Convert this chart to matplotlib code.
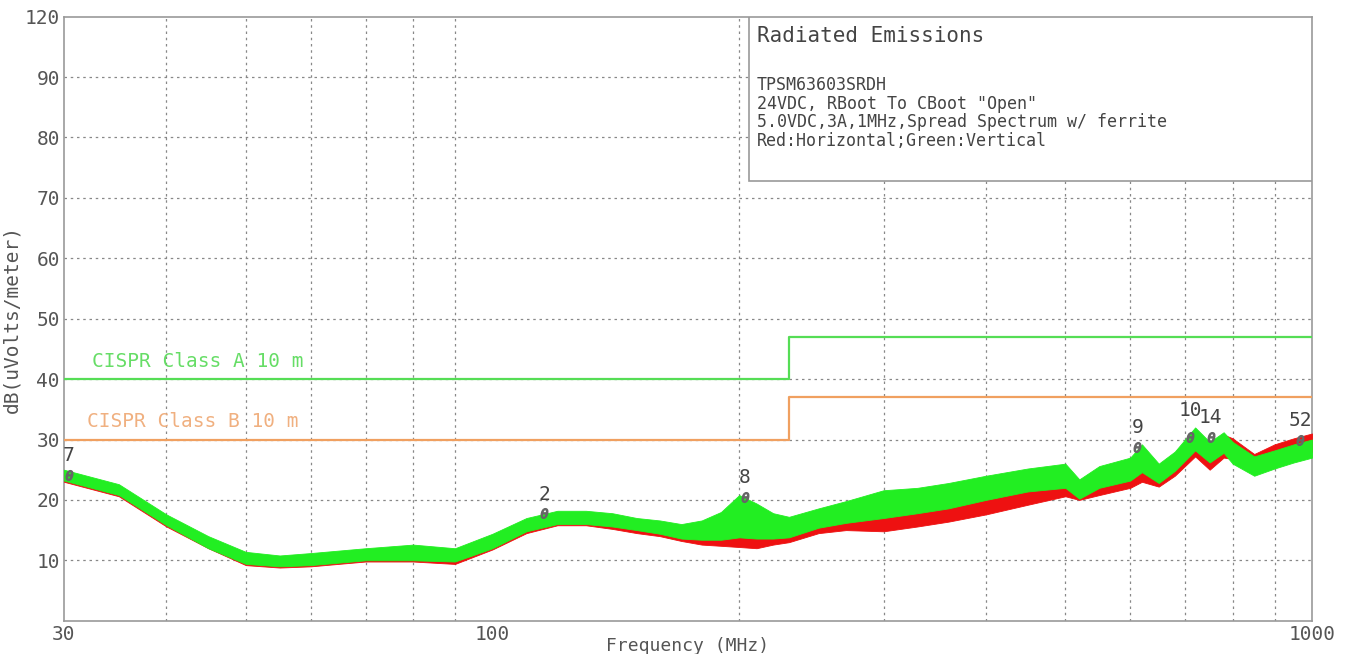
import numpy as np
import matplotlib.pyplot as plt
from matplotlib.patches import Rectangle
from matplotlib.ticker import FixedLocator, NullLocator

# --- data ---
freq = [30, 35, 40, 45, 50, 55, 60, 70, 80, 90, 100, 110, 120, 130, 140, 150,
        160, 170, 180, 190, 200, 210, 220, 230, 250, 270, 300, 330, 360, 400,
        450, 500, 520, 550, 600, 620, 650, 680, 720, 750, 780, 800, 850, 900,
        950, 1000]

# horizontal (red) noise band
red_lo = [23.0, 20.6, 15.6, 12.0, 9.2, 8.8, 9.0, 9.8, 9.8, 9.4, 11.8, 14.5, 15.8,
          15.8, 15.2, 14.5, 14.0, 13.2, 12.6, 12.4, 12.2, 12.0, 12.6, 13.0, 14.5,
          15.0, 14.8, 15.6, 16.4, 17.6, 19.2, 20.6, 20.0, 20.8, 22.0, 23.0, 22.2,
          24.0, 27.2, 25.0, 27.0, 26.8, 25.0, 26.2, 27.0, 28.0]
red_hi = [24.8, 22.2, 17.2, 13.6, 10.8, 10.4, 10.6, 11.6, 12.0, 11.0, 13.6, 16.2,
          17.4, 17.4, 16.8, 16.2, 15.8, 15.0, 14.8, 15.0, 15.2, 14.6, 14.8, 15.0,
          16.4, 17.6, 17.4, 18.4, 19.2, 20.6, 21.8, 23.4, 22.2, 23.6, 24.6, 25.8,
          24.4, 27.0, 30.4, 27.6, 30.8, 30.2, 27.6, 29.2, 30.2, 31.0]

# vertical (green) noise band
green_lo = [23.2, 20.8, 15.8, 12.0, 9.4, 9.0, 9.2, 10.0, 10.0, 9.8, 12.0, 14.8,
            16.0, 16.0, 15.6, 15.0, 14.4, 13.6, 13.4, 13.4, 13.8, 13.6, 13.6, 13.8,
            15.4, 16.2, 17.0, 17.8, 18.6, 20.0, 21.4, 22.0, 20.2, 22.0, 23.2, 24.6,
            22.8, 24.8, 28.2, 26.2, 27.8, 26.0, 24.0, 25.2, 26.2, 27.0]
green_hi = [25.0, 22.6, 17.6, 14.0, 11.4, 10.8, 11.2, 12.0, 12.6, 12.0, 14.4, 17.0,
            18.2, 18.2, 17.8, 17.0, 16.6, 16.0, 16.6, 18.0, 20.8, 19.4, 17.8, 17.2,
            18.6, 19.8, 21.6, 22.0, 22.8, 24.0, 25.2, 26.0, 23.4, 25.6, 27.0, 29.2,
            26.0, 28.0, 32.0, 29.6, 31.2, 29.6, 27.2, 28.2, 29.2, 30.0]

# CISPR limits
lim_f = [30, 230, 230, 1000]
limA_db = [40, 40, 47, 47]
limB_db = [30, 30, 37, 37]

# markers
mk_labels = ['7', '2', '8', '9', '10', '14', '52']
mk_freq = [30.4, 115.7, 203, 612, 710, 752, 967]
mk_db = [24.1, 17.8, 20.5, 28.8, 30.4, 30.4, 29.9]

yticks = [10, 20, 30, 40, 50, 60, 70, 80, 90, 100]
ytick_labels = ['10', '20', '30', '40', '50', '60', '70', '80', '90', '120']
xgrid = [40, 50, 60, 70, 80, 90, 200, 300, 400, 500, 600, 700, 800, 900]

txt_col = '#555555'
font = 'DejaVu Sans Mono'

fig = plt.figure(figsize=(13.5, 6.54), dpi=100)
ax = fig.add_axes([0.0474, 0.0509, 0.9245, 0.9236])
ax.set_xscale('log')
ax.set_xlim(30, 1000)
ax.set_ylim(0, 100)

for s in ax.spines.values():
    s.set_color('#999999')
    s.set_linewidth(1.2)

ax.xaxis.set_major_locator(FixedLocator([30, 100, 1000]))
ax.xaxis.set_minor_locator(NullLocator())
ax.set_xticklabels(['30', '100', '1000'], fontsize=14, family=font, color=txt_col)
ax.yaxis.set_major_locator(FixedLocator(yticks))
ax.set_yticklabels(ytick_labels, fontsize=14, family=font, color=txt_col)
ax.tick_params(length=0, pad=3)

# dotted grid
for g in xgrid:
    ax.axvline(g, color='#888888', lw=0.9, ls=(0, (2, 3)), zorder=1)
for g in yticks[:-1]:
    ax.axhline(g, color='#888888', lw=0.9, ls=(0, (2, 3)), zorder=1)

# limit lines
ax.plot(lim_f, limA_db, color='#55dd55', lw=1.6, zorder=3)
ax.plot(lim_f, limB_db, color='#f0a060', lw=1.6, zorder=3)
ax.text(32.5, 42.0, 'CISPR Class A 10 m', fontsize=14, family=font,
        color='#66dd66', zorder=4)
ax.text(32.0, 32.0, 'CISPR Class B 10 m', fontsize=14, family=font,
        color='#f0b080', zorder=4)

# measured traces (noise bands)
ax.fill_between(freq, red_lo, red_hi, color='#ee1111', lw=0.6, zorder=4)
ax.fill_between(freq, green_lo, green_hi, color='#22ee22', lw=0.6, zorder=5)

# markers
ax.plot(mk_freq, mk_db, ls='none', marker=r'$\theta$', ms=7, color='#666666', zorder=6)
for lab, f, d in zip(mk_labels, mk_freq, mk_db):
    lift = 2.9 if lab == '10' else 1.6
    ax.text(f, d + lift, lab, fontsize=14, family=font, color='#444444',
            ha='center', va='bottom', zorder=6)

# info box
ax.add_patch(Rectangle((0.549, 0.728), 0.451, 0.272, transform=ax.transAxes,
                       facecolor='white', edgecolor='#999999', lw=1.2, zorder=7))
ax.text(0.5553, 0.968, 'Radiated Emissions', transform=ax.transAxes, fontsize=15,
        family=font, color='#444444', va='center', zorder=8)
info = ['TPSM63603SRDH', '24VDC, RBoot To CBoot "Open"',
        '5.0VDC,3A,1MHz,Spread Spectrum w/ ferrite',
        'Red:Horizontal;Green:Vertical']
for i, line in enumerate(info):
    ax.text(0.5553, 0.887 - i * 0.031, line, transform=ax.transAxes, fontsize=12,
            family=font, color='#444444', va='center', zorder=8)

ax.set_xlabel('Frequency (MHz)', fontsize=13, family=font, color=txt_col, labelpad=-5)
ax.set_ylabel('dB(uVolts/meter)', fontsize=14, family=font, color=txt_col, labelpad=2)

fig.savefig('out.png', dpi=100)
